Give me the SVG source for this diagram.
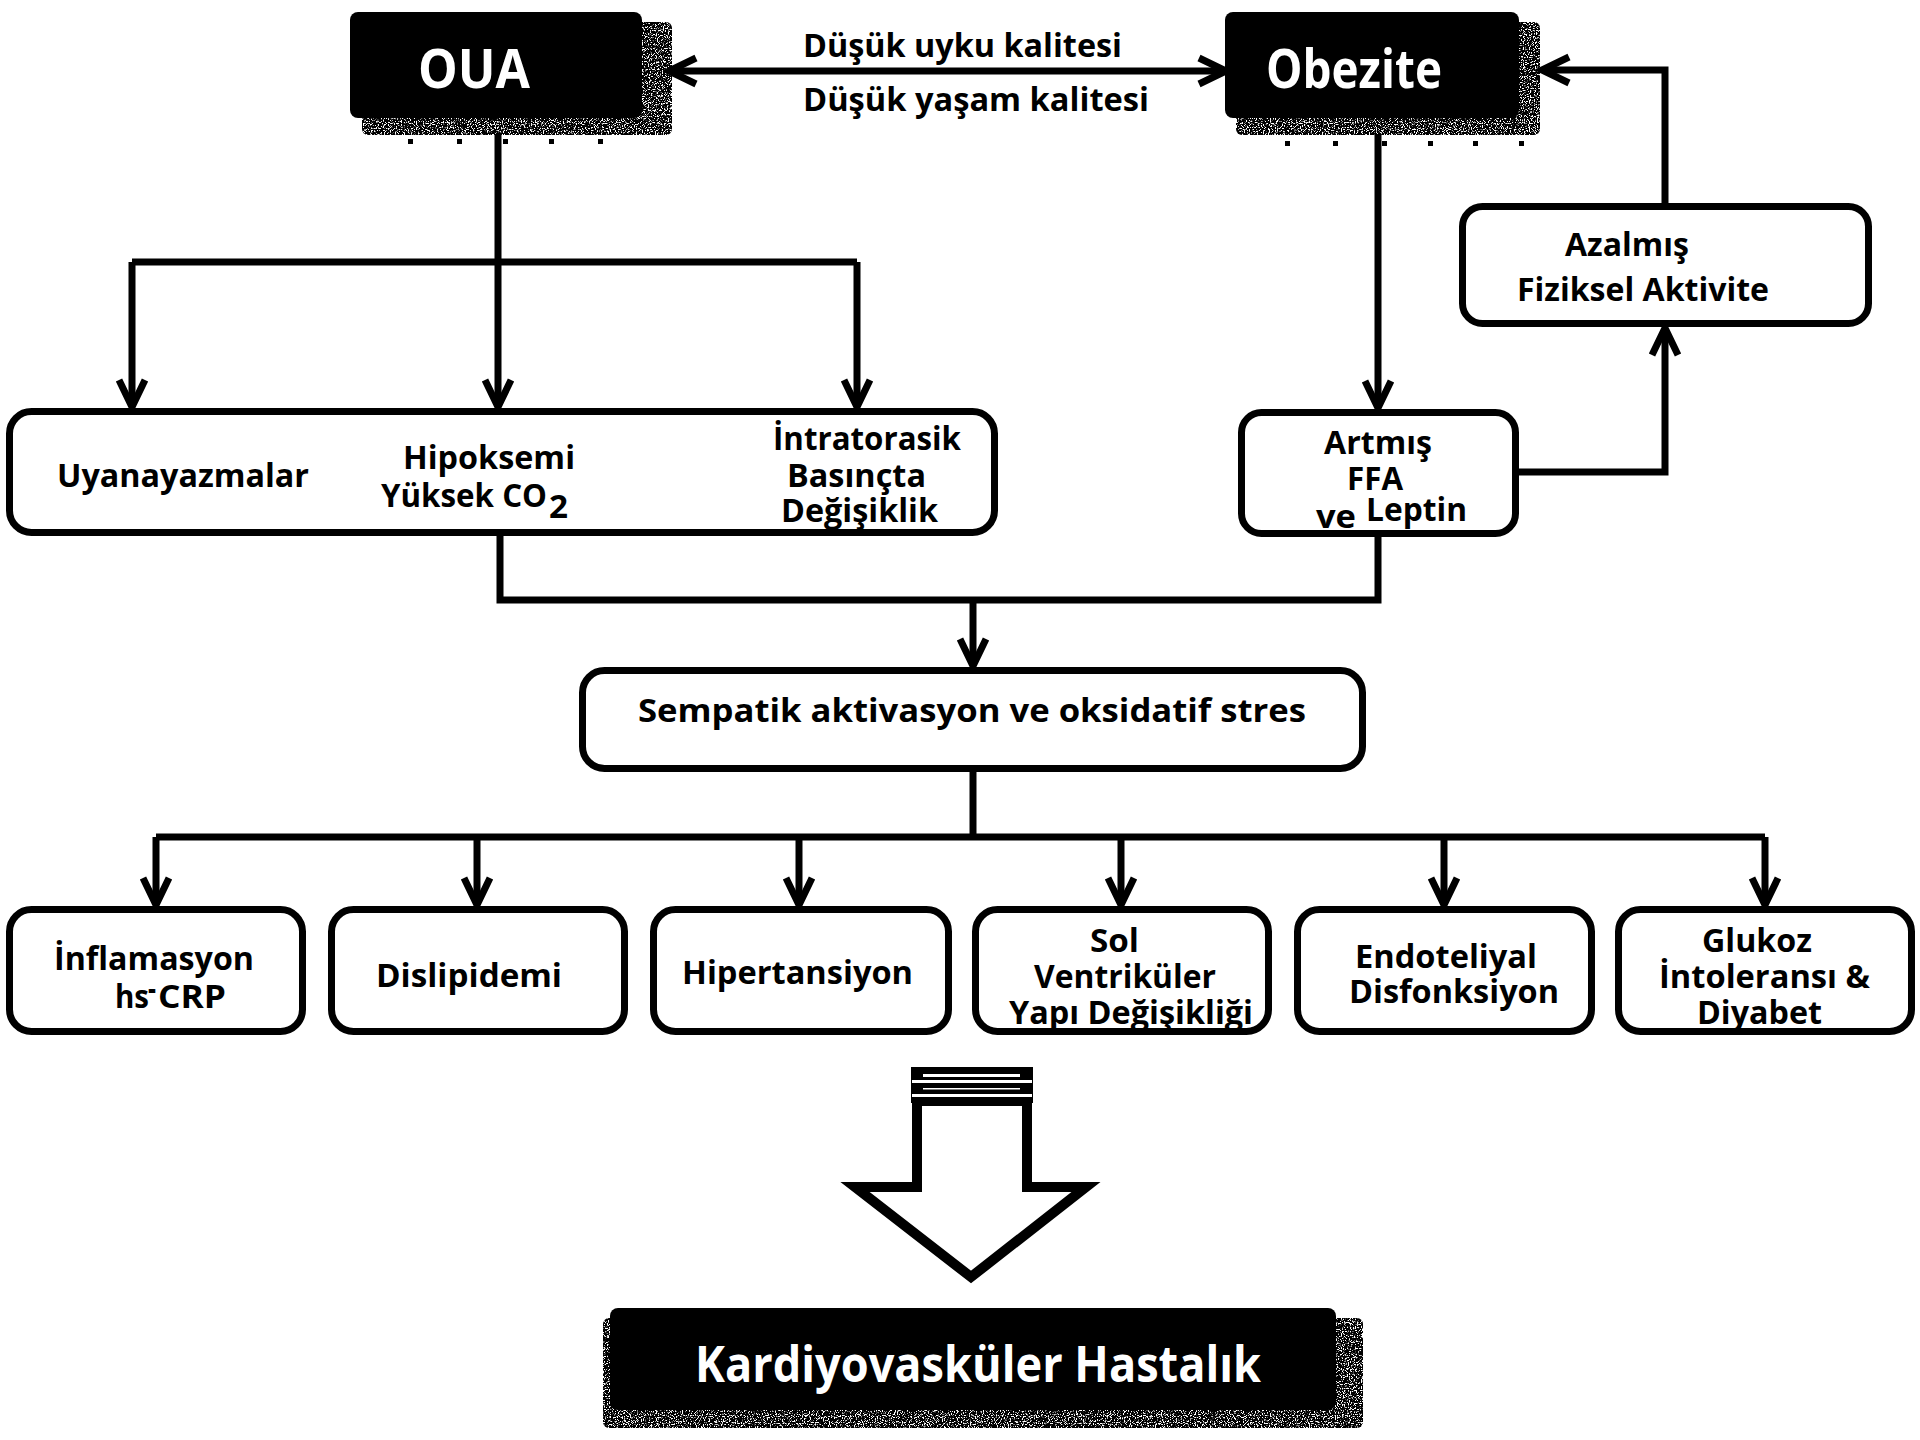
<svg xmlns="http://www.w3.org/2000/svg" width="1920" height="1440" viewBox="0 0 1920 1440">
<defs>
  <style>
    .lbl { font-family: "Open Sans", "Noto Sans", "Liberation Sans", sans-serif; font-weight: 700; font-size: 32px; fill: #000; }
    .big { font-family: "Open Sans", "Noto Sans", "Liberation Sans", sans-serif; font-weight: 700; fill: #fff; }
    .box { fill: #fff; stroke: #000; stroke-width: 7; }
    .core { fill: #000; }
    .halo { fill: #000; filter: url(#grain); }
    .dot { fill: #000; }
    .con { fill: none; stroke: #000; stroke-width: 7; stroke-linejoin: miter; stroke-linecap: butt; }
    .arr { marker-end: url(#head); }
  </style>
  <marker id="head" markerUnits="userSpaceOnUse" viewBox="-34 -20 40 40" markerWidth="40" markerHeight="40" refX="0" refY="0" orient="auto">
    <path d="M-27,-13 L0,0 L-27,13" fill="none" stroke="#000" stroke-width="7" stroke-linejoin="miter"/>
  </marker>
  <marker id="headStart" markerUnits="userSpaceOnUse" viewBox="-34 -20 40 40" markerWidth="40" markerHeight="40" refX="0" refY="0" orient="auto-start-reverse">
    <path d="M-27,-13 L0,0 L-27,13" fill="none" stroke="#000" stroke-width="7" stroke-linejoin="miter"/>
  </marker>
  <filter id="grain" x="0" y="0" width="100%" height="100%">
    <feTurbulence type="fractalNoise" baseFrequency="0.85" numOctaves="2" seed="7" result="noise"/>
    <feColorMatrix in="noise" type="matrix" values="0 0 0 0 0  0 0 0 0 0  0 0 0 0 0  0 0 0 9 -3.2" result="mask"/>
    <feComposite in="SourceGraphic" in2="mask" operator="in"/>
  </filter>
</defs>
<rect x="0" y="0" width="1920" height="1440" fill="#fff"/>

<g id="connectors">
  <path class="con" d="M669,71 H1226" marker-start="url(#headStart)" marker-end="url(#head)"/>
  <path class="con arr" d="M498,134 V407"/>
  <path class="con" d="M132,262 H857"/>
  <path class="con arr" d="M132,262 V407"/>
  <path class="con arr" d="M857,262 V407"/>
  <path class="con arr" d="M1378,134 V408"/>
  <path class="con arr" d="M1519,472 H1665 V328"/>
  <path class="con arr" d="M1665,203 V70 H1542"/>
  <path class="con" d="M500,536 V600 H1378 V536"/>
  <path class="con arr" d="M973,600 V666"/>
  <path class="con" d="M973,772 V837"/>
  <path class="con" d="M156,837 H1765"/>
  <path class="con arr" d="M156,837 V905"/>
  <path class="con arr" d="M477,837 V905"/>
  <path class="con arr" d="M799,837 V905"/>
  <path class="con arr" d="M1121,837 V905"/>
  <path class="con arr" d="M1444,837 V905"/>
  <path class="con arr" d="M1765,837 V905"/>
</g>

<g id="edge-labels">
  <text class="lbl" x="803" y="57" textLength="319" lengthAdjust="spacingAndGlyphs">Düşük uyku kalitesi</text>
  <text class="lbl" x="803" y="111" textLength="346" lengthAdjust="spacingAndGlyphs">Düşük yaşam kalitesi</text>
</g>

<g id="node-oua">
  <rect class="halo" x="362" y="22" width="310" height="113" rx="6"/>
  <rect class="core" x="350" y="12" width="292" height="106" rx="8"/>
  <rect class="dot" x="408" y="139" width="5" height="5"/>
  <rect class="dot" x="457" y="139" width="5" height="5"/>
  <rect class="dot" x="503" y="139" width="5" height="5"/>
  <rect class="dot" x="549" y="139" width="5" height="5"/>
  <rect class="dot" x="598" y="139" width="5" height="5"/>
  <text class="big" x="418" y="88" font-size="53" textLength="112" lengthAdjust="spacingAndGlyphs">OUA</text>
</g>

<g id="node-obezite">
  <rect class="halo" x="1236" y="22" width="304" height="113" rx="6"/>
  <rect class="core" x="1225" y="12" width="294" height="106" rx="8"/>
  <rect class="dot" x="1285" y="141" width="5" height="5"/>
  <rect class="dot" x="1333" y="141" width="5" height="5"/>
  <rect class="dot" x="1382" y="141" width="5" height="5"/>
  <rect class="dot" x="1428" y="141" width="5" height="5"/>
  <rect class="dot" x="1473" y="141" width="5" height="5"/>
  <rect class="dot" x="1519" y="141" width="5" height="5"/>
  <text class="big" x="1266" y="88" font-size="53" textLength="176" lengthAdjust="spacingAndGlyphs">Obezite</text>
</g>

<g id="node-azalmis">
  <rect class="box" x="1462.5" y="206.5" width="406" height="117" rx="20"/>
  <text class="lbl" x="1565" y="256" textLength="124" lengthAdjust="spacingAndGlyphs">Azalmış</text>
  <text class="lbl" x="1517" y="301" textLength="252" lengthAdjust="spacingAndGlyphs">Fiziksel Aktivite</text>
</g>

<g id="node-artmis">
  <rect class="box" x="1241.5" y="412.5" width="274" height="121" rx="20"/>
  <text class="lbl" x="1324" y="454" textLength="108" lengthAdjust="spacingAndGlyphs">Artmış</text>
  <text class="lbl" x="1347" y="490" textLength="56" lengthAdjust="spacingAndGlyphs">FFA</text>
  <text class="lbl" x="1316" y="528" textLength="40" lengthAdjust="spacingAndGlyphs">ve</text>
  <text class="lbl" x="1366" y="521" textLength="101" lengthAdjust="spacingAndGlyphs">Leptin</text>
</g>

<g id="node-oua-effects">
  <rect class="box" x="9.5" y="411.5" width="985" height="121" rx="22"/>
  <text class="lbl" x="57" y="487" textLength="252" lengthAdjust="spacingAndGlyphs">Uyanayazmalar</text>
  <text class="lbl" x="403" y="469" textLength="172" lengthAdjust="spacingAndGlyphs">Hipoksemi</text>
  <text class="lbl" x="381" y="507" textLength="166" lengthAdjust="spacingAndGlyphs">Yüksek CO</text>
  <text class="lbl" x="549" y="518" textLength="19" lengthAdjust="spacingAndGlyphs">2</text>
  <text class="lbl" x="773" y="450" textLength="188" lengthAdjust="spacingAndGlyphs">İntratorasik</text>
  <text class="lbl" x="787" y="487" textLength="139" lengthAdjust="spacingAndGlyphs">Basınçta</text>
  <text class="lbl" x="781" y="522" textLength="157" lengthAdjust="spacingAndGlyphs">Değişiklik</text>
</g>

<g id="node-sempatik">
  <rect class="box" x="582.5" y="670.5" width="780" height="98" rx="22"/>
  <text class="lbl" x="638" y="722" textLength="668" lengthAdjust="spacingAndGlyphs">Sempatik aktivasyon ve oksidatif stres</text>
</g>

<g id="node-inflamasyon">
  <rect class="box" x="9.5" y="909.5" width="293" height="122" rx="22"/>
  <text class="lbl" x="54" y="970" textLength="200" lengthAdjust="spacingAndGlyphs">İnflamasyon</text>
  <text class="lbl" x="115" y="1008" textLength="34" lengthAdjust="spacingAndGlyphs">hs</text>
  <text class="lbl" x="148" y="1000" font-size="22" textLength="8" lengthAdjust="spacingAndGlyphs">-</text>
  <text class="lbl" x="158" y="1008" textLength="68" lengthAdjust="spacingAndGlyphs">CRP</text>
</g>

<g id="node-dislipidemi">
  <rect class="box" x="331.5" y="909.5" width="293" height="122" rx="22"/>
  <text class="lbl" x="376" y="987" textLength="186" lengthAdjust="spacingAndGlyphs">Dislipidemi</text>
</g>

<g id="node-hipertansiyon">
  <rect class="box" x="653.5" y="909.5" width="295" height="122" rx="22"/>
  <text class="lbl" x="682" y="984" textLength="231" lengthAdjust="spacingAndGlyphs">Hipertansiyon</text>
</g>

<g id="node-sol-ventrikuler">
  <rect x="975.5" y="909.5" width="293" height="122" rx="22" fill="#fff"/>
  <text class="lbl" x="1090" y="952" textLength="49" lengthAdjust="spacingAndGlyphs">Sol</text>
  <text class="lbl" x="1034" y="988" textLength="182" lengthAdjust="spacingAndGlyphs">Ventriküler</text>
  <text class="lbl" x="1009" y="1024" textLength="244" lengthAdjust="spacingAndGlyphs">Yapı Değişikliği</text>
  <rect x="975.5" y="909.5" width="293" height="122" rx="22" fill="none" stroke="#000" stroke-width="7"/>
</g>

<g id="node-endoteliyal">
  <rect class="box" x="1297.5" y="909.5" width="294" height="122" rx="22"/>
  <text class="lbl" x="1355" y="968" textLength="182" lengthAdjust="spacingAndGlyphs">Endoteliyal</text>
  <text class="lbl" x="1349" y="1003" textLength="210" lengthAdjust="spacingAndGlyphs">Disfonksiyon</text>
</g>

<g id="node-glukoz">
  <rect x="1618.5" y="909.5" width="293" height="122" rx="22" fill="#fff"/>
  <text class="lbl" x="1702" y="952" textLength="110" lengthAdjust="spacingAndGlyphs">Glukoz</text>
  <text class="lbl" x="1659" y="988" textLength="211" lengthAdjust="spacingAndGlyphs">İntoleransı &amp;</text>
  <text class="lbl" x="1697" y="1024" textLength="125" lengthAdjust="spacingAndGlyphs">Diyabet</text>
  <rect x="1618.5" y="909.5" width="293" height="122" rx="22" fill="none" stroke="#000" stroke-width="7"/>
</g>

<g id="block-arrow">
  <polygon points="917,1101 917,1187 855,1187 971,1277 1086,1187 1027,1187 1027,1101" fill="#fff" stroke="#000" stroke-width="10" stroke-linejoin="miter"/>
  <rect x="911" y="1067" width="122" height="36" fill="#000"/>
  <rect x="923" y="1074" width="97" height="3" fill="#fff"/>
  <rect x="912" y="1080" width="120" height="3" fill="#fff"/>
  <rect x="923" y="1088" width="97" height="1.5" fill="#fff"/>
  <rect x="912" y="1094" width="120" height="3" fill="#fff"/>
</g>

<g id="node-kardiyovaskuler">
  <rect class="halo" x="603" y="1318" width="760" height="110" rx="6"/>
  <rect class="core" x="610" y="1308" width="726" height="102" rx="8"/>
  <text class="big" x="695" y="1382" font-size="50" textLength="566" lengthAdjust="spacingAndGlyphs">Kardiyovasküler Hastalık</text>
</g>
</svg>
